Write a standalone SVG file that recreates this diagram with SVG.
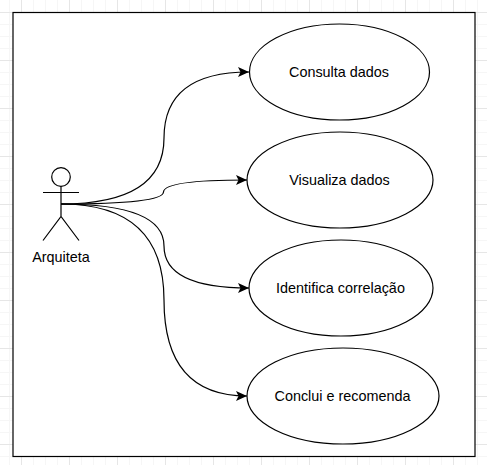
<svg xmlns="http://www.w3.org/2000/svg" width="487" height="465" viewBox="0 0 487 465">
<style>
.gm{stroke:#f6f6f6;stroke-width:1;fill:none}
.gM{stroke:#e6e6e6;stroke-width:1;fill:none}
.s{fill:#fff;stroke:#000;stroke-width:1.2}
.l{fill:none;stroke:#000;stroke-width:1.2}
.e{fill:none;stroke:#000;stroke-width:1.2;marker-end:url(#a)}
text{font-family:"Liberation Sans",Arial,sans-serif;font-size:14.4px;fill:#000;text-anchor:middle}
</style>
<defs>
<marker id="a" markerUnits="userSpaceOnUse" markerWidth="14" markerHeight="14" refX="11" refY="7" orient="auto">
<path d="M0 2 L11 7 L0 12 L2.500 7Z" fill="#000"/>
</marker>
</defs>
<rect width="487" height="465" fill="#fff"/>
<g id="grid">
<path class="gm" d="M33.500 0V465M45.500 0V465M57.500 0V465M81.500 0V465M93.500 0V465M105.500 0V465M129.500 0V465M141.500 0V465M153.500 0V465M177.500 0V465M189.500 0V465M201.500 0V465M225.500 0V465M237.500 0V465M249.500 0V465M273.500 0V465M285.500 0V465M297.500 0V465M321.500 0V465M333.500 0V465M345.500 0V465M369.500 0V465M381.500 0V465M393.500 0V465M417.500 0V465M429.500 0V465M441.500 0V465M9.500 0V465M465.500 0V465M477.500 0V465"/>
<path class="gm" d="M0 24.500H487M0 36.500H487M0 48.500H487M0 72.500H487M0 84.500H487M0 96.500H487M0 120.500H487M0 132.500H487M0 144.500H487M0 168.500H487M0 180.500H487M0 192.500H487M0 216.500H487M0 228.500H487M0 240.500H487M0 264.500H487M0 276.500H487M0 288.500H487M0 312.500H487M0 324.500H487M0 336.500H487M0 360.500H487M0 372.500H487M0 384.500H487M0 408.500H487M0 420.500H487M0 432.500H487M0 456.500H487"/>
<path class="gM" d="M21.500 0V465M69.500 0V465M117.500 0V465M165.500 0V465M213.500 0V465M261.500 0V465M309.500 0V465M357.500 0V465M405.500 0V465M453.500 0V465"/>
<path class="gM" d="M0 12.500H487M0 60.500H487M0 108.500H487M0 156.500H487M0 204.500H487M0 252.500H487M0 300.500H487M0 348.500H487M0 396.500H487M0 444.500H487"/>
</g>
<rect id="frame" class="s" x="13" y="12.500" width="462" height="444"/>
<g id="connectors">
<path class="e" d="M61 204Q164 204 164 138Q164 72 249 72"/>
<path class="e" d="M61 204Q163 204 163.500 192Q164 180 247 180"/>
<path class="e" d="M61 204Q164 204 164 246Q164 288 249 288"/>
<path class="e" d="M61 204Q164 204 164 300Q164 396 247 396"/>
</g>
<g id="actor">
<circle class="l" cx="61" cy="177" r="9.300"/>
<path class="l" d="M61 186.500V216.500M43 192.500H79M43 240.500L61 216.500L79 240.500"/>
<text x="61" y="261.500">Arquiteta</text>
</g>
<g id="node1"><ellipse class="s" cx="339.500" cy="72" rx="90" ry="48"/><text x="339" y="77">Consulta dados</text></g>
<g id="node2"><ellipse class="s" cx="340" cy="180" rx="93" ry="48"/><text x="339.500" y="185">Visualiza dados</text></g>
<g id="node3"><ellipse class="s" cx="341" cy="288" rx="92" ry="48"/><text x="340.500" y="293">Identifica correlação</text></g>
<g id="node4"><ellipse class="s" cx="343" cy="396" rx="96" ry="48"/><text x="342.500" y="401">Conclui e recomenda</text></g>
</svg>
